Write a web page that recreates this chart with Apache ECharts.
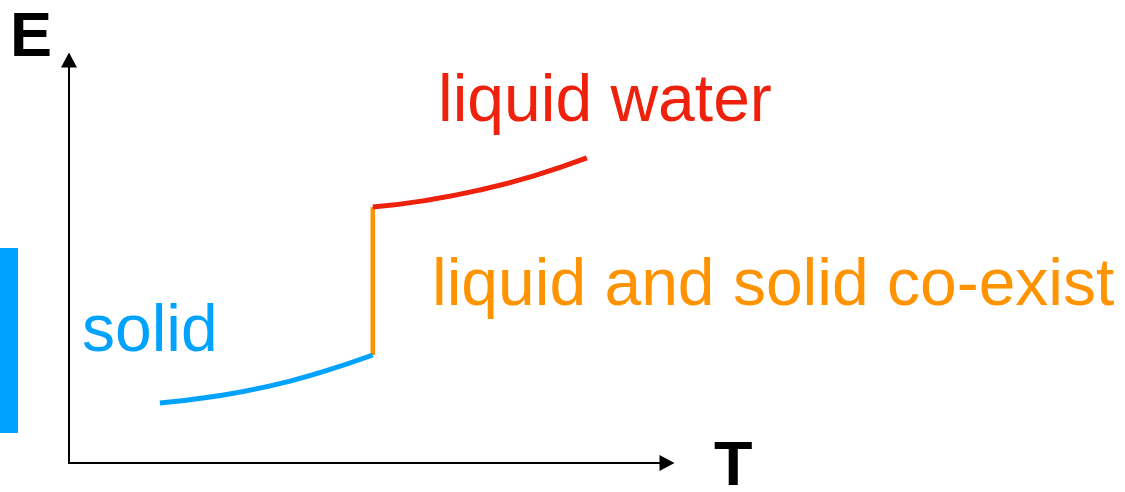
<!DOCTYPE html>
<html>
<head>
<meta charset="utf-8">
<style>
  html, body { margin: 0; padding: 0; background: #ffffff; }
  #chart { width: 1125px; height: 492px; }
</style>
<script src="https://cdn.jsdelivr.net/npm/echarts@6/dist/echarts.min.js"></script>
</head>
<body>
<div id="chart"></div>
<script>
// Energy vs temperature while ice melts: heating the solid, the melting plateau, heating the liquid.
const solidT = [15.2, 24.2, 33.3, 42.1, 50.8];
const solidE = [14.9, 16.5, 19.0, 22.5, 26.8];

const coexistT = [50.8, 50.8];
const coexistE = [26.8, 63.5];

const liquidT = [50.8, 59.5, 68.6, 77.6, 86.6];
const liquidE = [63.5, 65.1, 67.7, 71.2, 75.7];

const axisNames = ['T', 'E'];
const phaseLabels = ['solid', 'liquid and solid co-exist', 'liquid water'];

const BLUE = '#00a2ff';
const ORANGE = '#ff9300';
const RED = '#ee220c';

const zip = (xs, ys) => xs.map((x, i) => [x, ys[i]]);

const chart = echarts.init(document.getElementById('chart'), null, { renderer: 'canvas' });

const axisCommon = {
  type: 'value',
  min: 0,
  max: 100,
  axisLine: {
    show: true,
    symbol: ['none', 'triangle'],
    symbolSize: [16, 15],
    lineStyle: { color: '#000000', width: 2 }
  },
  axisTick: { show: false },
  axisLabel: { show: false },
  splitLine: { show: false }
};

const labelFont = '66px "Liberation Sans", Arial, sans-serif';
const axisFont = 'bold 63px "Liberation Sans", Arial, sans-serif';

chart.setOption({
  animation: false,
  backgroundColor: '#ffffff',
  grid: { left: 69, right: 458, top: 60, bottom: 29 },
  xAxis: Object.assign({}, axisCommon),
  yAxis: Object.assign({}, axisCommon),
  series: [
    {
      name: phaseLabels[1],
      type: 'line',
      data: zip(coexistT, coexistE),
      showSymbol: false,
      lineStyle: { color: ORANGE, width: 4.5 },
      z: 2
    },
    {
      name: phaseLabels[0],
      type: 'line',
      data: zip(solidT, solidE),
      smooth: true,
      showSymbol: false,
      lineStyle: { color: BLUE, width: 5 },
      z: 3
    },
    {
      name: phaseLabels[2],
      type: 'line',
      data: zip(liquidT, liquidE),
      smooth: true,
      showSymbol: false,
      lineStyle: { color: RED, width: 5 },
      z: 3
    }
  ],
  graphic: [
    {
      type: 'rect',
      shape: { x: 0, y: 248, width: 18, height: 185 },
      style: { fill: BLUE }
    },
    {
      type: 'text',
      style: { text: axisNames[1], x: 10, y: 39, font: axisFont, fill: '#000000', textVerticalAlign: 'middle' }
    },
    {
      type: 'text',
      style: { text: axisNames[0], x: 714, y: 468, font: axisFont, fill: '#000000', textVerticalAlign: 'middle' }
    },
    {
      type: 'text',
      style: { text: phaseLabels[0], x: 82, y: 333, font: labelFont, fill: BLUE, textVerticalAlign: 'middle' }
    },
    {
      type: 'text',
      style: { text: phaseLabels[1], x: 432, y: 287, font: labelFont, fill: ORANGE, textVerticalAlign: 'middle' }
    },
    {
      type: 'text',
      style: { text: phaseLabels[2], x: 438, y: 103, font: labelFont, fill: RED, textVerticalAlign: 'middle' }
    }
  ]
});
</script>
</body>
</html>
